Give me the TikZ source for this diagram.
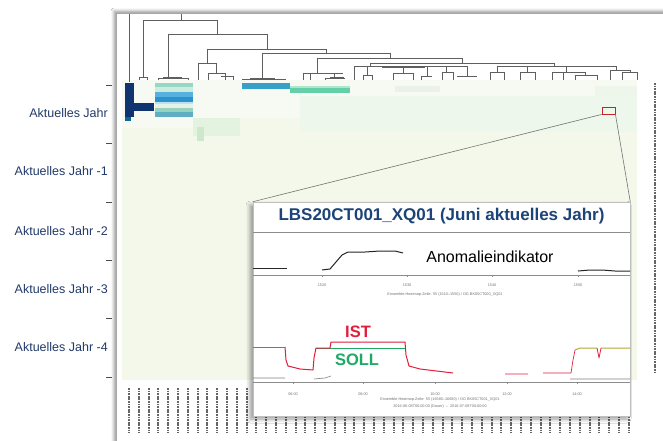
\documentclass[tikz,border=0pt]{standalone}
\usepackage{fontspec}
\setmainfont{Liberation Sans}
\usetikzlibrary{shadows.blur}

\definecolor{labelblue}{RGB}{34,58,106}
\definecolor{titleblue}{RGB}{28,68,120}
\definecolor{hmbg}{RGB}{244,248,235}
\definecolor{hmtop}{RGB}{246,250,242}
\definecolor{hmtint}{RGB}{238,247,236}
\definecolor{navy}{RGB}{16,52,112}
\definecolor{dendro}{RGB}{95,95,95}
\definecolor{istred}{RGB}{225,30,60}
\definecolor{sollgreen}{RGB}{30,170,100}
\definecolor{olive}{RGB}{175,170,50}
\definecolor{zoomred}{RGB}{190,40,40}
\definecolor{cA}{RGB}{150,215,200}
\definecolor{cB}{RGB}{205,236,222}
\definecolor{cC}{RGB}{85,178,222}
\definecolor{cD}{RGB}{42,146,206}
\definecolor{cE}{RGB}{190,225,235}
\definecolor{cF}{RGB}{228,242,232}
\definecolor{cG}{RGB}{150,210,190}
\definecolor{cH}{RGB}{95,175,195}
\definecolor{cI}{RGB}{55,160,200}
\definecolor{cJ}{RGB}{100,208,170}
\definecolor{cK}{RGB}{175,230,205}
\definecolor{cL}{RGB}{228,243,224}
\definecolor{cM}{RGB}{205,232,204}
\definecolor{cN}{RGB}{234,241,232}
\definecolor{cO}{RGB}{238,245,234}

\tikzset{
  dline/.style={draw=dendro, line width=0.55pt},
  ytick/.style={draw=black!70, line width=0.9pt},
  ylabel/.style={anchor=east, text=labelblue, inner sep=0pt, font=\fontsize{12.5}{14}\selectfont},
  tinytext/.style={text=black!55, inner sep=0pt, font=\fontsize{3.8}{4.6}\selectfont},
  colmark/.style={draw=black!60, line width=2pt, dash pattern=on 1.8pt off 0.8pt},
  plotaxis/.style={draw=black!45, line width=0.5pt},
  curve/.style={line width=1pt, line join=round},
}

\begin{document}
\begin{tikzpicture}[x=1pt,y=-1pt]
\useasboundingbox (0,0) rectangle (663,441);
\fill[white] (0,0) rectangle (663,441);

% chart panel
\fill[white, blur shadow={shadow xshift=-2pt, shadow yshift=2pt, shadow blur radius=3pt}]
  (116,13) rectangle (680,460);
\draw[black!35, line width=0.6pt] (116,460) -- (116,13) -- (680,13);

% heatmap background and cells
\fill[hmbg] (122,80) rectangle (637,380);
\fill[hmtop] (122,80) rectangle (637,118);
\fill[hmtint] (300,96) rectangle (637,132);
\fill[hmtop] (122,118) rectangle (200,128);
\fill[navy] (125,83) rectangle (134,117);
\fill[navy] (134,103) rectangle (154,111);
\fill[navy!75!cyan] (125,117) rectangle (131,121);
\fill[cA] (155,83) rectangle (193,87);
\fill[cB] (155,87) rectangle (193,92);
\fill[cC] (155,92) rectangle (193,97);
\fill[cD] (155,97) rectangle (193,102);
\fill[cE] (155,102) rectangle (193,104);
\fill[cF] (155,104) rectangle (193,108);
\fill[cG] (155,108) rectangle (193,112);
\fill[cH] (155,112) rectangle (193,117);
\fill[cI] (242,83) rectangle (290,89);
\fill[cJ] (290,88) rectangle (350,93);
\fill[cK] (290,86) rectangle (350,88);
\fill[cL] (193,118) rectangle (240,136);
\fill[cM] (197,127) rectangle (204,141);
\fill[cN] (395,86) rectangle (440,92);
\fill[cO] (595,86) rectangle (637,96);

% dendrogram
\draw[dline] (129,14) -- (129,82);
\draw[dline] (181,14) -- (181,20) (143,20) -- (217,20);
\draw[dline] (143,20) -- (143,77) (139,80) -- (139,77) -- (147,77) -- (147,80);
\draw[dline] (217,20) -- (217,34) (168,34) -- (267,34);
\draw[dline] (168,34) -- (168,78) (158,80) -- (158,78) -- (188,78) -- (188,80);
\draw[dline, line width=1pt] (163,78) -- (182,78);
\draw[dline] (267,34) -- (267,49) (207,49) -- (326,49);
\draw[dline] (207,49) -- (207,63) (198,63) -- (216,63) (198,63) -- (198,80)
  (216,63) -- (216,73) (208,73) -- (225,73) (208,73) -- (208,80) (225,73) -- (225,80)
  (221,76) -- (233,76) (233,76) -- (233,80);
\draw[dline] (326,49) -- (326,53) (262,53) -- (390,53);
\draw[dline] (262,53) -- (262,79) (242,80) -- (242,79) -- (285,79) -- (285,80);
\draw[dline, line width=1pt] (250,79) -- (275,79);
\draw[dline] (390,53) -- (390,58) (317,58) -- (462,58);
\draw[dline] (317,58) -- (317,73) (303,73) -- (343,73) (303,73) -- (303,80)
  (310,73) -- (310,80) (334,73) -- (334,78) (325,78) -- (345,78) (325,78) -- (325,80);
\draw[dline, line width=1pt] (330,78) -- (344,78);
\draw[dline] (462,58) -- (462,63) (370,63) -- (554,63);
\draw[dline] (370,63) -- (370,66) (354,66) -- (453,66) (354,66) -- (354,80);
\draw[dline, line width=0.9pt] (382,67.5) -- (425,67.5);
\draw[dline] (367,66) -- (367,75) (363,75) -- (372,75) (363,75) -- (363,80) (372,75) -- (372,80);
\draw[dline] (403,66) -- (403,73) (393,73) -- (413,73) (393,73) -- (393,80) (413,73) -- (413,80);
\draw[dline] (427,66) -- (427,76) (421,76) -- (432,76) (421,76) -- (421,80);
\draw[dline] (446,66) -- (446,72) (442,72) -- (453,72) (442,72) -- (442,80) (453,72) -- (453,80);
\draw[dline, line width=0.9pt] (457,76) -- (477,76);
\draw[dline] (453,66) -- (467,66) (467,66) -- (467,76);
\draw[dline] (554,63) -- (554,66) (497,66) -- (616,66);
\draw[dline] (497,66) -- (497,72) (490,72) -- (504,72) (490,72) -- (490,80) (504,72) -- (504,80);
\draw[dline] (527,66) -- (527,72) (520,72) -- (535,72) (520,72) -- (520,80) (535,72) -- (535,80);
\draw[dline] (566,66) -- (566,72) (552,72) -- (585,72) (552,72) -- (552,80) (563,72) -- (563,80)
  (585,72) -- (585,75) (575,75) -- (597,75) (575,75) -- (575,80) (597,75) -- (597,80);
\draw[dline] (616,66) -- (616,70) (610,70) -- (630,70) (610,70) -- (610,80)
  (630,70) -- (630,72) (622,72) -- (637,72) (622,72) -- (622,80) (637,72) -- (637,80);

% row axis: ticks and year labels
\foreach \yt in {85,143.5,202,260,318.5,377}
  \draw[ytick] (106,\yt) -- (112,\yt);
\node[ylabel] (y0) at (108,113) {Aktuelles Jahr};
\node[ylabel] (y1) at (108,171) {Aktuelles Jahr -1};
\node[ylabel] (y2) at (108,231) {Aktuelles Jahr -2};
\node[ylabel] (y3) at (108,289) {Aktuelles Jahr -3};
\node[ylabel] (y4) at (108,347) {Aktuelles Jahr -4};

% row and column tag strips
\draw[colmark, line width=2pt] (655,83) -- (655,372);
\foreach \k in {0,...,51}
  \draw[colmark] ({129+9.8*\k},388) -- ++(0,45);

% highlighted cell
\node[draw=zoomred, line width=0.9pt, minimum width=13pt, minimum height=7pt, inner sep=0pt]
  (zoombox) at (608.5,110.5) {};

% detail panel
\node[fill=white, draw=black!25, line width=0.5pt, minimum width=377pt, minimum height=214pt,
      inner sep=0pt, blur shadow={shadow xshift=-3pt, shadow yshift=-3pt, shadow blur radius=4pt}]
  (inset) at (441.5,309) {};
\draw[black!55, line width=0.6pt] (zoombox.south west) -- (inset.north west);
\draw[black!55, line width=0.6pt] (zoombox.south east) -- (inset.north east);

\node[text=titleblue, font=\fontsize{17}{20}\selectfont\bfseries] (title) at (441.5,216)
  {LBS20CT001\_XQ01 (Juni aktuelles Jahr)};
\draw[black!45, line width=0.6pt] (253,232) -- (630,232);

% anomaly indicator trace
\draw[curve, black!85] (253,268) -- (287,268);
\draw[curve, black!85] (322,270) -- (330,269) -- (336,262) -- (342,255) -- (348,252)
  -- (365,252) -- (380,251) -- (395,251) -- (403,253);
\draw[curve, black!85] (578,271) -- (590,270) -- (602,270) -- (615,271) -- (630,271);
\node[font=\fontsize{16}{18}\selectfont] (anom) at (490,257) {Anomalieindikator};
\draw[plotaxis] (253,275) -- (630,275);
\foreach \xt/\lab in {322/1520,407/1530,492/1540,578/1550} {
  \draw[plotaxis] (\xt,275) -- (\xt,277);
  \node[tinytext] at (\xt,285) {\lab};
}
\node[tinytext] (ax1) at (445,295) {Ensemble-Heatmap-Zeile: 55 (1510--1550) / OG BK05CT000\_XQ01};

% actual vs. set value traces
\draw[curve, sollgreen] (253,347) -- (285,347);
\draw[curve, sollgreen] (316,348) -- (405,348);
\draw[curve, istred] (285,347) -- (286,360) -- (288,366) -- (300,369) -- (313,370)
  -- (314,358) -- (316,348) -- (330,348) -- (331,342) -- (405,342) -- (406,355)
  -- (409,366) -- (420,369) -- (453,373);
\draw[curve, istred, line width=0.7pt] (505,374) -- (528,374) (543,373) -- (571,373) -- (573,360) -- (575,350);
\draw[curve, olive] (575,350) -- (580,348) -- (597,348) (601,348) -- (630,348);
\draw[curve, istred, line width=0.8pt] (597,348) -- (599,358) -- (601,348);
\draw[black!50, line width=0.6pt] (253,378) -- (285,378) (314,379) -- (325,378) -- (331,376)
  (570,379) -- (630,379);
\node[text=istred, font=\fontsize{16.5}{18}\selectfont\bfseries] (ist) at (358,332) {IST};
\node[text=sollgreen, font=\fontsize{16.5}{18}\selectfont\bfseries] (soll) at (357,360) {SOLL};
\draw[plotaxis] (253,382) -- (630,382);
\foreach \xt/\lab in {293/06:00,363/08:00,435/10:00,507/12:00,577/14:00} {
  \draw[plotaxis] (\xt,382) -- (\xt,384);
  \node[tinytext] at (\xt,394) {\lab};
}
\node[tinytext] (ax2) at (440,400) {Ensemble-Heatmap-Zeile: 55 (16580--16680) / OG BK05CT001\_XQ01};
\node[tinytext] (ax3) at (440,407) {2016-06-08T00:00:00 (Dauer) \ -- \ 2016-07-08T00:00:00};
\end{tikzpicture}
\end{document}
